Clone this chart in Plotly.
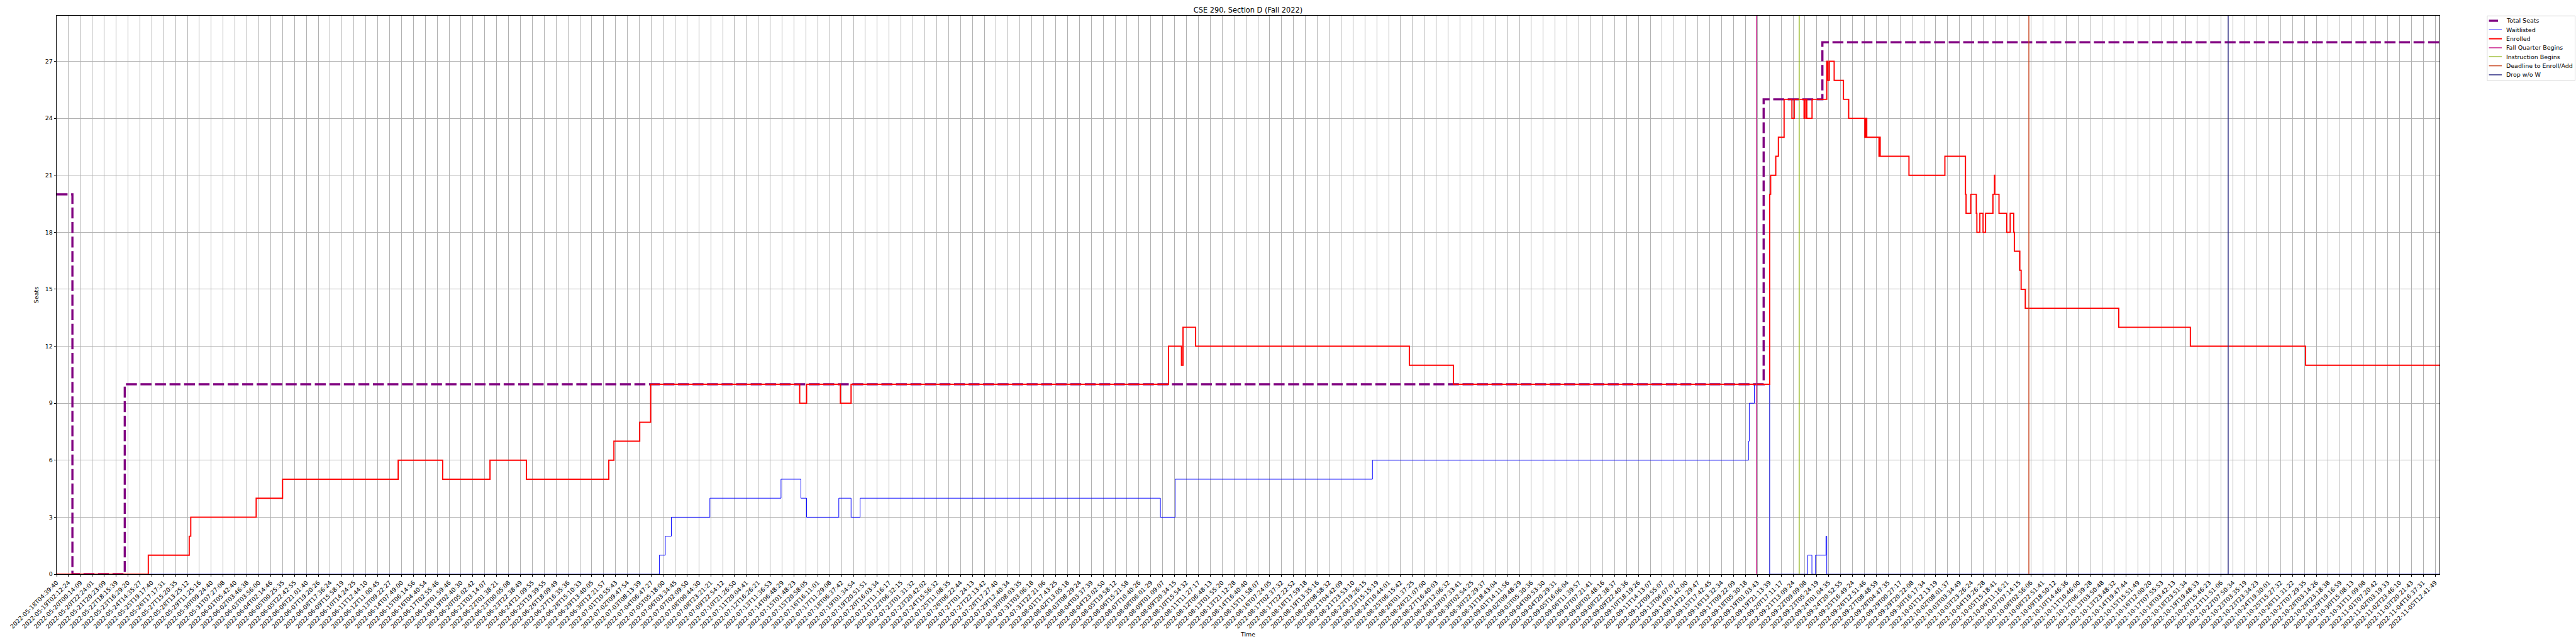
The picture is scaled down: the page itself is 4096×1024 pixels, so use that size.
import plotly.graph_objects as go

S = 0.682  # scale factor relative to the 6000x1500 reference

# ---------------- data ----------------
# x positions are sample positions expressed in tick-index units
tick_labels = [
    "2022-05-18T04:39:40", "2022-05-19T02:12:24", "2022-05-20T00:14:09", "2022-05-20T22:24:01",
    "2022-05-21T20:23:09", "2022-05-22T18:15:39", "2022-05-23T16:29:20", "2022-05-24T14:35:27",
    "2022-05-25T19:17:40", "2022-05-26T17:17:31", "2022-05-27T15:20:35", "2022-05-28T13:25:12",
    "2022-05-29T11:25:16", "2022-05-30T09:24:40", "2022-05-31T07:27:08", "2022-06-01T05:42:40",
    "2022-06-02T03:46:38", "2022-06-03T03:56:00", "2022-06-04T02:14:46", "2022-06-05T00:25:35",
    "2022-06-05T22:42:55", "2022-06-06T21:01:40", "2022-06-07T19:20:26", "2022-06-08T17:36:24",
    "2022-06-09T15:58:19", "2022-06-10T14:24:25", "2022-06-11T12:44:10", "2022-06-12T11:00:45",
    "2022-06-13T09:22:27", "2022-06-14T07:49:00", "2022-06-15T06:14:56", "2022-06-16T04:40:54",
    "2022-06-17T02:55:46", "2022-06-18T01:59:46", "2022-06-19T02:40:30", "2022-06-20T05:02:42",
    "2022-06-21T03:14:07", "2022-06-22T01:38:21", "2022-06-23T00:05:08", "2022-06-23T22:38:49",
    "2022-06-24T21:09:55", "2022-06-25T19:39:55", "2022-06-26T18:09:49", "2022-06-27T16:35:36",
    "2022-06-28T15:10:33", "2022-06-29T13:40:05", "2022-06-30T12:21:57", "2022-07-01T10:55:43",
    "2022-07-02T09:47:54", "2022-07-03T08:13:39", "2022-07-04T06:47:27", "2022-07-05T05:18:00",
    "2022-07-06T03:34:45", "2022-07-07T02:09:50", "2022-07-08T00:44:30", "2022-07-08T23:21:21",
    "2022-07-09T22:54:12", "2022-07-10T21:26:50", "2022-07-11T20:04:41", "2022-07-12T16:26:21",
    "2022-07-13T11:36:53", "2022-07-14T06:48:29", "2022-07-15T01:48:23", "2022-07-15T20:58:05",
    "2022-07-16T16:11:01", "2022-07-17T11:29:08", "2022-07-18T06:37:42", "2022-07-19T01:34:54",
    "2022-07-19T20:51:51", "2022-07-20T16:03:34", "2022-07-21T11:16:17", "2022-07-22T06:32:15",
    "2022-07-23T01:31:32", "2022-07-23T20:42:02", "2022-07-24T15:56:32", "2022-07-25T11:08:35",
    "2022-07-26T06:22:44", "2022-07-27T01:24:13", "2022-07-27T22:13:42", "2022-07-28T17:27:40",
    "2022-07-29T12:40:34", "2022-07-30T08:03:35", "2022-07-31T03:06:18", "2022-07-31T22:21:06",
    "2022-08-01T17:43:25", "2022-08-02T13:05:18", "2022-08-03T08:29:24", "2022-08-04T03:37:39",
    "2022-08-04T23:02:50", "2022-08-05T19:58:12", "2022-08-06T15:21:58", "2022-08-07T10:40:26",
    "2022-08-08T06:01:29", "2022-08-09T01:09:07", "2022-08-09T20:34:15", "2022-08-10T15:54:32",
    "2022-08-11T11:27:17", "2022-08-12T06:48:13", "2022-08-13T01:55:20", "2022-08-13T21:12:28",
    "2022-08-14T16:40:40", "2022-08-15T11:58:07", "2022-08-16T07:24:05", "2022-08-17T02:37:32",
    "2022-08-17T22:22:52", "2022-08-18T17:59:18", "2022-08-19T13:35:16", "2022-08-20T08:58:32",
    "2022-08-21T04:42:09", "2022-08-21T23:53:10", "2022-08-22T19:26:15", "2022-08-23T15:15:19",
    "2022-08-24T10:44:01", "2022-08-25T06:15:42", "2022-08-26T01:37:25", "2022-08-26T21:07:00",
    "2022-08-27T16:40:03", "2022-08-28T12:06:32", "2022-08-29T07:33:41", "2022-08-30T02:54:25",
    "2022-08-30T22:29:37", "2022-08-31T18:43:04", "2022-09-01T14:11:56", "2022-09-02T09:48:29",
    "2022-09-03T05:30:36", "2022-09-04T00:53:30", "2022-09-04T20:29:31", "2022-09-05T16:06:04",
    "2022-09-06T11:39:57", "2022-09-07T07:21:41", "2022-09-08T02:48:16", "2022-09-08T22:38:37",
    "2022-09-09T22:40:36", "2022-09-10T18:19:26", "2022-09-11T14:13:07", "2022-09-12T09:55:07",
    "2022-09-13T06:07:07", "2022-09-14T01:42:00", "2022-09-14T21:29:47", "2022-09-15T17:42:45",
    "2022-09-16T13:32:34", "2022-09-17T09:22:09", "2022-09-18T05:30:18", "2022-09-19T01:03:43",
    "2022-09-19T21:13:39", "2022-09-20T17:11:17", "2022-09-21T13:09:24", "2022-09-22T09:09:08",
    "2022-09-23T05:24:19", "2022-09-24T01:04:35", "2022-09-24T20:52:55", "2022-09-25T16:49:24",
    "2022-09-26T12:51:46", "2022-09-27T08:48:59", "2022-09-28T04:47:35", "2022-09-29T00:27:17",
    "2022-09-29T20:22:08", "2022-09-30T16:17:34", "2022-10-01T12:13:19", "2022-10-02T08:01:37",
    "2022-10-03T03:34:49", "2022-10-03T23:26:24", "2022-10-04T19:26:28", "2022-10-05T15:18:41",
    "2022-10-06T11:16:21", "2022-10-07T07:14:15", "2022-10-08T02:56:06", "2022-10-08T22:51:41",
    "2022-10-09T18:50:12", "2022-10-10T14:46:36", "2022-10-11T10:46:00", "2022-10-12T06:39:28",
    "2022-10-13T03:50:48", "2022-10-13T23:48:32", "2022-10-14T19:47:44", "2022-10-15T15:51:49",
    "2022-10-16T12:00:20", "2022-10-17T07:55:53", "2022-10-18T03:42:13", "2022-10-18T23:51:34",
    "2022-10-19T19:48:33", "2022-10-20T15:46:23", "2022-10-21T11:51:06", "2022-10-22T07:50:34",
    "2022-10-23T03:35:19", "2022-10-23T23:34:23", "2022-10-24T19:30:01", "2022-10-25T15:27:32",
    "2022-10-26T11:31:22", "2022-10-27T07:29:35", "2022-10-28T03:14:26", "2022-10-28T23:18:38",
    "2022-10-29T19:16:59", "2022-10-30T15:08:13", "2022-10-31T11:09:08", "2022-11-01T07:20:42",
    "2022-11-02T03:19:33", "2022-11-02T23:46:10", "2022-11-03T20:21:43", "2022-11-04T16:37:31",
    "2022-11-05T12:41:49",
]

seats_pos = [0, 1.33, 5.73, 143.53, 148.47, 200.36]
seats_val = [20, 0, 10, 25, 28, 28]

wait_pos = [0, 50.68, 51.18, 51.69, 54.93, 60.91, 62.58, 63.06, 65.77, 66.80, 67.56, 92.81,
            94.05, 110.64, 142.26, 142.32, 142.75, 144.04, 147.24, 147.59, 147.89, 148.77,
            148.84, 200.36]
wait_val = [0, 1, 2, 3, 4, 5, 4, 3, 4, 3, 4, 3,
            5, 6, 7, 9, 10, 0, 1, 0, 1, 2,
            0, 0]

enr_pos = [0, 7.71, 11.15, 11.28, 16.78, 19.00, 28.72, 32.46, 36.44, 39.50, 46.43, 46.86, 49.03, 49.95,
           62.48, 63.06, 65.90, 66.80, 93.49, 94.58, 94.71, 95.77, 113.74, 117.45,
           144.04, 144.12, 144.55, 144.77, 145.25, 145.91, 146.10, 146.93, 147.02, 147.16, 147.60,
           148.84, 148.93, 149.05, 149.46, 150.24, 150.68, 152.04, 152.10, 152.20, 153.23, 153.28, 153.33,
           155.75, 158.77, 160.50, 160.55, 160.95, 161.41, 161.46, 161.71, 161.98, 162.19, 162.81, 162.94, 162.97,
           163.32, 163.97, 164.26, 164.56, 164.61, 165.07, 165.18, 165.53, 173.39, 179.41, 189.10, 200.36]
enr_val = [0, 1, 2, 3, 4, 5, 6, 5, 6, 5, 6, 7, 8, 10,
           9, 10, 9, 10, 12, 11, 13, 12, 11, 10,
           20, 21, 22, 23, 25, 24, 25, 24, 25, 24, 25,
           27, 26, 27, 26, 25, 24, 23, 24, 23, 22, 23, 22,
           21, 22, 20, 19, 20, 19, 18, 19, 18, 19, 20, 21, 20,
           19, 18, 19, 18, 17, 16, 15, 14, 13, 12, 11, 11]

event_names = ["Fall Quarter Begins", "Instruction Begins", "Deadline to Enroll/Add", "Drop w/o W"]
event_pos = [142.94, 146.52, 165.83, 182.59]
event_colors = ["#c71585", "#8db312", "#c8451f", "#26267f"]

y_ticks = list(range(0, 28, 3))

# ---------------- geometry / styles ----------------
FONT = "DejaVu Sans"
W, H = 4096, 1024
plot_l, plot_r = 131.6 * S, 5687.5 * S
plot_t, plot_b = 37.3 * S, 1338.7 * S
x_max = max(seats_pos[-1], wait_pos[-1], enr_pos[-1])
y_max = max(seats_val) * 1.05

SEATS_LINE = dict(color="#800080", width=5.0 * S, dash=f"{25.5*S:.1f}px,{8.3*S:.1f}px")
WAIT_LINE = dict(color="#0000ff", width=1.4 * S)
ENR_LINE = dict(color="#ff0000", width=2.8 * S)
EVENT_W = 2.1 * S

fig = go.Figure()
fig.add_trace(go.Scatter(x=seats_pos, y=seats_val, name="Total Seats", mode="lines",
                         line_shape="hv", line=SEATS_LINE, showlegend=False))
fig.add_trace(go.Scatter(x=wait_pos, y=wait_val, name="Waitlisted", mode="lines",
                         line_shape="hv", line=WAIT_LINE, showlegend=False))
fig.add_trace(go.Scatter(x=enr_pos, y=enr_val, name="Enrolled", mode="lines",
                         line_shape="hv", line=ENR_LINE, showlegend=False))
for name, pos, col in zip(event_names, event_pos, event_colors):
    fig.add_trace(go.Scatter(x=[pos, pos], y=[0, y_max], name=name, mode="lines",
                             line=dict(color=col, width=EVENT_W), showlegend=False))

# ---------------- legend (drawn in paper space, matplotlib-like) ----------------
def px_x(px):
    return (px - plot_l) / (plot_r - plot_l)

def px_y(py):
    return (plot_b - py) / (plot_b - plot_t)

legend_entries = [
    ("Total Seats", dict(color="#800080", width=5.0 * S), 5824.0),
    ("Waitlisted", dict(color="#0000ff", width=1.4 * S), 5832.7),
    ("Enrolled", dict(color="#ff0000", width=2.8 * S), 5832.7),
] + [(n, dict(color=c, width=EVENT_W), 5832.7) for n, c in zip(event_names, event_colors)]

shapes = [dict(type="rect", xref="paper", yref="paper",
               x0=px_x(5798.7 * S), x1=px_x(W - 1.5), y0=px_y(188.3 * S), y1=px_y(37.7 * S),
               line=dict(color="#cccccc", width=1.1 * S), fillcolor="rgba(255,255,255,0.8)",
               layer="above")]
annotations = []
for i, (label, lstyle, x_end) in enumerate(legend_entries):
    yc = (49.0 + 21.0 * i) * S
    shapes.append(dict(type="line", xref="paper", yref="paper",
                       x0=px_x(5802.7 * S), x1=px_x(x_end * S), y0=px_y(yc), y1=px_y(yc),
                       line=lstyle, layer="above"))
    annotations.append(dict(text=label, xref="paper", yref="paper",
                            x=px_x(5841.0 * S), y=px_y(yc), xanchor="left", yanchor="middle",
                            showarrow=False, borderpad=0,
                            font=dict(family=FONT, size=13.9 * S, color="black")))

axis_common = dict(
    showline=True, linecolor="black", linewidth=1.1 * S, mirror=True,
    showgrid=True, gridcolor="#b0b0b0", gridwidth=1.1 * S,
    ticks="outside", ticklen=4.9 * S, tickwidth=1.1 * S, tickcolor="black",
    zeroline=False, tickfont=dict(family=FONT, size=13.9 * S, color="black"),
)

fig.update_layout(
    width=W, height=H, autosize=False,
    margin=dict(l=plot_l, r=W - plot_r, t=plot_t, b=H - plot_b, pad=0, autoexpand=False),
    paper_bgcolor="white", plot_bgcolor="white",
    font=dict(family=FONT, size=13.9 * S, color="black"),
    title=dict(text="CSE 290, Section D (Fall 2022)", x=0.5, xref="paper", xanchor="center",
               y=1 - 23.3 * S / H, yref="container", yanchor="middle",
               font=dict(family=FONT, size=16.7 * S, color="black")),
    xaxis=dict(
        range=[0, x_max], tickmode="array",
        tickvals=list(range(len(tick_labels))), ticktext=tick_labels, tickangle=-45,
        title=dict(text="Time", font=dict(family=FONT, size=13.9 * S, color="black"), standoff=4),
        automargin=False, **axis_common),
    yaxis=dict(
        range=[0, y_max], tickmode="array", tickvals=y_ticks, ticktext=[str(v) for v in y_ticks],
        title=dict(text="Seats", font=dict(family=FONT, size=13.9 * S, color="black"), standoff=8),
        automargin=False, **axis_common),
    shapes=shapes,
    annotations=annotations,
    showlegend=False,
)

fig.write_html("out.html", config={"displayModeBar": False},
               post_script="document.body.style.margin='0px';")
